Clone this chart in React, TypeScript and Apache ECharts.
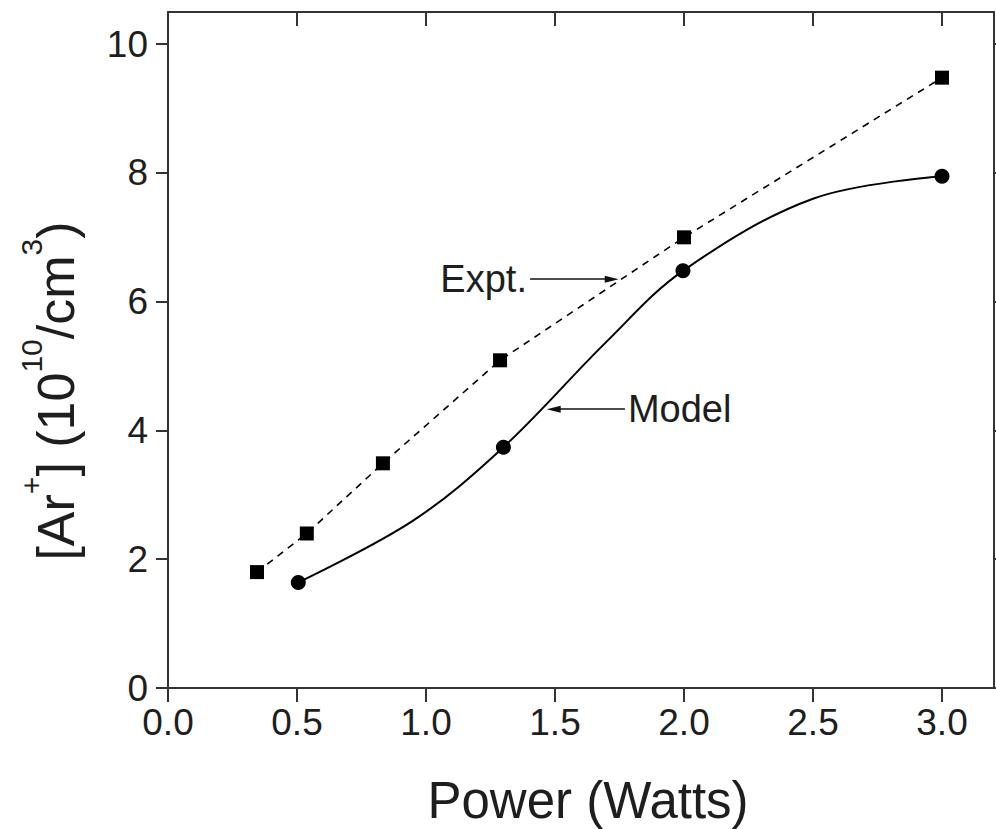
import React, { useEffect, useRef } from 'react';
import * as echarts from 'echarts';

// ---- data ----
const xTicks = [0, 0.5, 1.0, 1.5, 2.0, 2.5, 3.0];
const yTicks = [0, 2, 4, 6, 8, 10];

const exptX = [0.345, 0.538, 0.833, 1.287, 2.0, 3.0];
const exptY = [1.8, 2.4, 3.49, 5.09, 7.0, 9.48];

const modelX = [0.505, 1.3, 1.996, 3.0];
const modelY = [1.64, 3.74, 6.48, 7.95];

// model curve
const modelCurveX = [0.505, 0.95, 1.3, 1.7, 1.996, 2.5, 3.0];
const modelCurveY = [1.64, 2.6, 3.74, 5.38, 6.48, 7.6, 7.95];

// annotation arrows (data coordinates)
const exptArrowFrom = [1.403, 6.35];
const exptArrowTo = [1.72, 6.35];
const modelArrowFrom = [1.771, 4.33];
const modelArrowTo = [1.495, 4.33];

const FONT = 'Liberation Sans, Arial, Helvetica, sans-serif';
const INK = '#1e1e1e';
const AXIS = '#333333';

const W = 996;
const H = 829;

export default function App() {
  const ref = useRef<HTMLDivElement>(null);

  useEffect(() => {
    document.body.style.margin = '0';
    const chart = echarts.init(ref.current!, undefined, { renderer: 'svg' });

    const zip = (xs: number[], ys: number[]) => xs.map((x, i) => [x, ys[i]]);

    const baseX = {
      type: 'value',
      min: 0,
      max: 3.2,
      splitLine: { show: false },
      axisLine: { show: true, onZero: false, lineStyle: { color: AXIS, width: 2 } },
    };
    const baseY = {
      type: 'value',
      min: 0,
      max: 10.5,
      splitLine: { show: false },
      axisLine: { show: true, onZero: false, lineStyle: { color: AXIS, width: 2 } },
    };

    chart.setOption({
      animation: false,
      backgroundColor: '#ffffff',
      grid: { left: 168, right: 2.4, top: 12, bottom: 141, containLabel: false },
      xAxis: [
        {
          ...baseX,
          position: 'bottom',
          axisTick: { show: true, inside: false, length: 14, customValues: xTicks, lineStyle: { color: AXIS, width: 2 } },
          axisLabel: {
            show: true,
            customValues: xTicks,
            margin: 16,
            fontSize: 37,
            fontFamily: FONT,
            color: INK,
            formatter: (v: number) => v.toFixed(1),
          },
        },
        {
          ...baseX,
          position: 'top',
          axisTick: { show: true, inside: true, length: 14, customValues: xTicks, lineStyle: { color: AXIS, width: 2 } },
          axisLabel: { show: false },
        },
      ],
      yAxis: [
        {
          ...baseY,
          position: 'left',
          axisTick: { show: true, inside: false, length: 12, customValues: yTicks, lineStyle: { color: AXIS, width: 2 } },
          axisLabel: {
            show: true,
            customValues: yTicks,
            margin: 20,
            fontSize: 37,
            fontFamily: FONT,
            color: INK,
            formatter: (v: number) => String(v),
          },
        },
        {
          ...baseY,
          position: 'right',
          axisTick: { show: true, inside: false, length: 12, customValues: yTicks, lineStyle: { color: AXIS, width: 2 } },
          axisLabel: { show: false },
        },
      ],
      series: [
        {
          name: 'Expt.',
          type: 'line',
          data: zip(exptX, exptY),
          symbol: 'rect',
          symbolSize: 14,
          itemStyle: { color: '#000', opacity: 1 },
          lineStyle: { color: '#000', width: 1.6, type: [7, 6] },
          z: 3,
        },
        {
          name: 'Model curve',
          type: 'line',
          data: zip(modelCurveX, modelCurveY),
          smooth: 0.35,
          showSymbol: false,
          symbol: 'none',
          lineStyle: { color: '#000', width: 2 },
          z: 2,
          markLine: {
            silent: true,
            symbol: ['none', 'triangle'],
            symbolSize: [7, 14],
            lineStyle: { color: '#111', width: 1.6, type: 'solid' },
            label: {
              show: true,
              position: 'start',
              distance: 3,
              fontSize: 38,
              fontFamily: FONT,
              color: INK,
            },
            data: [
              [
                { coord: exptArrowFrom, label: { formatter: 'Expt.' } },
                { coord: exptArrowTo },
              ],
              [
                { coord: modelArrowFrom, label: { formatter: 'Model' } },
                { coord: modelArrowTo },
              ],
            ],
          },
        },
        {
          name: 'Model',
          type: 'scatter',
          data: zip(modelX, modelY),
          symbol: 'circle',
          symbolSize: 15,
          itemStyle: { color: '#000', opacity: 1 },
          z: 4,
        },
      ],
      graphic: [
        {
          type: 'text',
          x: 588,
          y: 800,
          style: {
            text: 'Power (Watts)',
            fontSize: 51,
            fontFamily: FONT,
            fill: INK,
            align: 'center',
            verticalAlign: 'middle',
          },
        },
        {
          type: 'text',
          x: 56,
          y: 391,
          rotation: Math.PI / 2,
          style: {
            text: '{m|[Ar}{s|+}{m|] (10}{s|10}{m|/cm}{s|3}{m|)}',
            align: 'center',
            verticalAlign: 'middle',
            fill: INK,
            rich: {
              m: { fontSize: 52, fontFamily: FONT, fill: INK, lineHeight: 80 },
              s: { fontSize: 30, fontFamily: FONT, fill: INK, lineHeight: 20, verticalAlign: 'top' },
            },
          },
        },
      ],
    });

    return () => chart.dispose();
  }, []);

  return (
    <div
      ref={ref}
      style={{ position: 'absolute', left: 0, top: 0, width: W, height: H, background: '#fff' }}
    />
  );
}
